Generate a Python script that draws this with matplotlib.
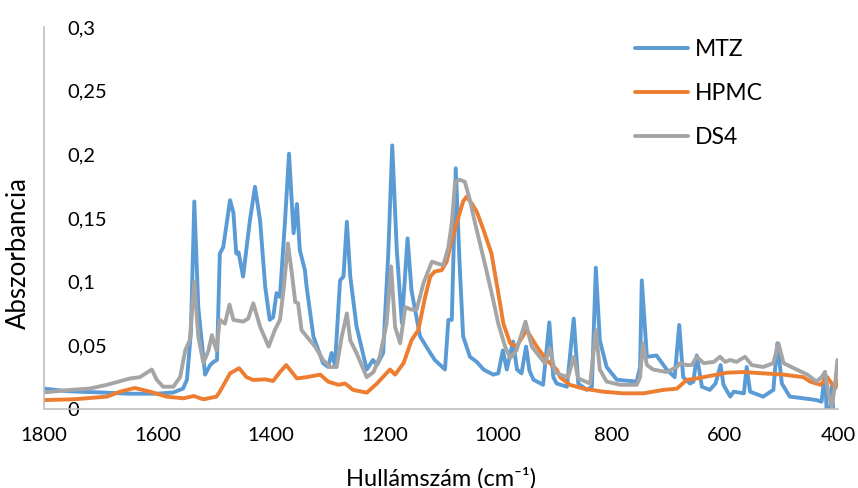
"""FTIR spectra of MTZ, HPMC and DS4."""
import matplotlib
matplotlib.use('Agg')
import matplotlib.pyplot as plt

plt.rcParams['font.family'] = ['Lato', 'DejaVu Sans']

# wavenumber (cm-1), absorbance
mtz_w = [1800, 1760, 1700, 1650, 1600, 1572, 1555, 1548, 1541, 1535, 1528, 1516,
         1507, 1501, 1495, 1490, 1484, 1472, 1466, 1461, 1457, 1449, 1437, 1428,
         1419, 1410, 1402, 1396, 1390, 1384, 1375, 1368, 1360, 1354, 1349, 1340,
         1337, 1325, 1308, 1299, 1293, 1287, 1278, 1272, 1266, 1260, 1249, 1231,
         1220, 1213, 1202, 1193, 1186, 1178, 1169, 1159, 1152, 1137, 1119, 1111,
         1093, 1087, 1081, 1074, 1067, 1061, 1049, 1037, 1025, 1008, 999, 991,
         984, 973, 966, 958, 950, 944, 937, 920, 909, 902, 896, 878, 866, 858,
         843, 834, 827, 820, 808, 790, 755, 749, 746, 737, 720, 702, 688, 680,
         673, 661, 655, 649, 640, 626, 616, 607, 602, 590, 584, 566, 561, 555,
         532, 514, 507, 499, 485, 461, 438, 429, 423, 420, 414, 411, 408]
mtz_a = [0.016, 0.014, 0.013, 0.012, 0.012, 0.013, 0.016, 0.023, 0.06, 0.163, 0.08, 0.027,
         0.0345, 0.037, 0.0385, 0.122, 0.127, 0.164, 0.154, 0.122, 0.123, 0.104, 0.148, 0.1745,
         0.148, 0.096, 0.07, 0.072, 0.091, 0.088, 0.148, 0.2005, 0.138, 0.161, 0.125, 0.109,
         0.096, 0.057, 0.036, 0.033, 0.044, 0.0345, 0.101, 0.104, 0.147, 0.104, 0.065, 0.031,
         0.0385, 0.0345, 0.044, 0.122, 0.207, 0.125, 0.0675, 0.134, 0.093, 0.057, 0.044, 0.0385,
         0.031, 0.07, 0.07, 0.189, 0.112, 0.057, 0.041, 0.037, 0.031, 0.027, 0.028, 0.046,
         0.031, 0.053, 0.031, 0.028, 0.049, 0.03, 0.023, 0.019, 0.068, 0.025, 0.02, 0.0175, 0.071, 0.02,
         0.015, 0.0175, 0.111, 0.054, 0.033, 0.023, 0.0215, 0.033, 0.101, 0.041, 0.042, 0.031, 0.025, 0.066,
         0.025, 0.02, 0.0215, 0.042, 0.0175, 0.015, 0.02, 0.0345, 0.019, 0.0097, 0.0136, 0.0123, 0.033, 0.0136,
         0.0097, 0.015, 0.0516, 0.02, 0.0097, 0.0084, 0.007, 0.0057, 0.029, -0.002, -0.002, 0.0175, -0.003]

hpmc_w = [1800, 1748, 1689, 1666, 1640, 1613, 1584, 1554, 1536, 1519, 1496, 1490,
          1472, 1456, 1443, 1431, 1410, 1396, 1384, 1373, 1354, 1337, 1313, 1299,
          1281, 1269, 1255, 1231, 1213, 1190, 1181, 1166, 1152, 1140, 1128, 1119,
          1111, 1099, 1090, 1081, 1069, 1061, 1055, 1046, 1037, 1025, 1011, 999,
          990, 978, 967, 949, 931, 914, 896, 890, 873, 849, 814, 779, 743, 708,
          684, 667, 649, 626, 596, 567, 532, 496, 461, 449, 431, 419, 405, 399]
hpmc_a = [0.007, 0.0076, 0.0097, 0.0136, 0.0165, 0.0136, 0.0097, 0.0084, 0.0102, 0.0076, 0.0097, 0.0136,
          0.028, 0.032, 0.025, 0.0228, 0.0233, 0.022, 0.029, 0.0345, 0.024, 0.025, 0.027, 0.0215,
          0.019, 0.02, 0.015, 0.0128, 0.02, 0.031, 0.027, 0.036, 0.054, 0.062, 0.088, 0.104,
          0.108, 0.109, 0.1157, 0.1327, 0.151, 0.163, 0.1667, 0.1615, 0.155, 0.1405, 0.122, 0.091,
          0.067, 0.0516, 0.049, 0.062, 0.049, 0.0385, 0.031, 0.025, 0.019, 0.016, 0.0136, 0.0123, 0.0123, 0.015,
          0.016, 0.0228, 0.024, 0.026, 0.0285, 0.029, 0.028, 0.027, 0.025, 0.0215, 0.019, 0.025, 0.016, 0.0228]

ds4_w = [1800, 1754, 1720, 1689, 1648, 1631, 1610, 1601, 1590, 1572, 1560, 1551,
         1543, 1535, 1528, 1519, 1510, 1504, 1496, 1490, 1481, 1473, 1466, 1449,
         1440, 1431, 1419, 1404, 1393, 1384, 1377, 1370, 1363, 1357, 1352, 1346,
         1337, 1322, 1308, 1296, 1284, 1275, 1266, 1260, 1249, 1231, 1219, 1208,
         1196, 1188, 1181, 1172, 1163, 1152, 1143, 1131, 1116, 1105, 1096, 1087,
         1081, 1075, 1067, 1058, 1049, 1040, 1034, 1020, 1008, 999, 987, 978,
         967, 951, 940, 926, 917, 908, 899, 890, 876, 866, 858, 837, 827, 820,
         808, 784, 755, 749, 744, 737, 726, 702, 684, 679, 667, 658, 649, 637,
         619, 608, 599, 590, 579, 564, 552, 532, 514, 505, 496, 473, 454, 438,
         429, 423, 417, 411, 405, 401]
ds4_a = [0.013, 0.015, 0.016, 0.019, 0.024, 0.025, 0.031, 0.0228, 0.0175, 0.0175, 0.025, 0.046,
         0.054, 0.1, 0.057, 0.036, 0.046, 0.058, 0.046, 0.07, 0.067, 0.082, 0.07, 0.0686,
         0.071, 0.083, 0.0646, 0.049, 0.062, 0.07, 0.096, 0.13, 0.1065, 0.084, 0.083, 0.062,
         0.057, 0.049, 0.0385, 0.033, 0.033, 0.057, 0.075, 0.054, 0.044, 0.025, 0.029, 0.041,
         0.067, 0.112, 0.0646, 0.0516, 0.08, 0.078, 0.078, 0.0987, 0.1157, 0.114, 0.113, 0.127,
         0.146, 0.1785, 0.18, 0.1785, 0.164, 0.146, 0.135, 0.109, 0.0856, 0.067, 0.049, 0.04,
         0.046, 0.0686, 0.049, 0.041, 0.036, 0.0477, 0.029, 0.027, 0.025, 0.041, 0.024, 0.02, 0.062, 0.031,
         0.0215, 0.019, 0.019, 0.025, 0.0516, 0.0345, 0.031, 0.029, 0.033, 0.036, 0.0345, 0.0345, 0.041, 0.036,
         0.037, 0.041, 0.037, 0.0385, 0.037, 0.041, 0.0345, 0.033, 0.036, 0.0516, 0.036, 0.031, 0.027, 0.0215,
         0.025, 0.029, 0.0123, 0.0018, 0.02, 0.0385]

x_ticks = [1800, 1600, 1400, 1200, 1000, 800, 600, 400]
y_ticks = [0, 0.05, 0.1, 0.15, 0.2, 0.25, 0.3]
y_labels = ['0', '0,05', '0,1', '0,15', '0,2', '0,25', '0,3']

fig = plt.figure(figsize=(8.58, 4.88), dpi=100)
ax = fig.add_axes([0.0513, 0.1619, 0.9254, 0.7828])

lw = 2.8
ax.plot(mtz_w, mtz_a, color='#5B9BD5', lw=lw, label='MTZ', solid_capstyle='round', solid_joinstyle='round')
ax.plot(hpmc_w, hpmc_a, color='#ED7D31', lw=lw, label='HPMC', solid_capstyle='round', solid_joinstyle='round')
ax.plot(ds4_w, ds4_a, color='#A5A5A5', lw=lw, label='DS4', solid_capstyle='round', solid_joinstyle='round')

ax.set_xlim(1800, 400)
ax.set_ylim(0, 0.3)
ax.set_xticks(x_ticks)
ax.set_xticklabels([str(t) for t in x_ticks])
ax.set_yticks(y_ticks)
ax.set_yticklabels(y_labels)

for side in ['top', 'right']:
    ax.spines[side].set_visible(False)
for side in ['left', 'bottom']:
    ax.spines[side].set_color('#BFBFBF')
    ax.spines[side].set_linewidth(1.2)

ax.tick_params(axis='x', length=0, pad=13, labelsize=14.5)
ax.tick_params(axis='y', length=0, pad=-16.5, labelsize=14.5)
for lab in ax.get_yticklabels():
    lab.set_horizontalalignment('left')

ax.set_xlabel('Hullámszám (cm⁻¹)', fontsize=17)
ax.set_ylabel('Abszorbancia', fontsize=18.5)
ax.xaxis.set_label_coords(0.5, -0.152)
ax.yaxis.set_label_coords(-0.016, 0.408)

ax.legend(loc='upper left', bbox_to_anchor=(0.74, 0.92), bbox_transform=fig.transFigure,
          frameon=False, fontsize=16.5, handlelength=2.3, handletextpad=0.3,
          labelspacing=1.0, borderpad=0, borderaxespad=0)

fig.savefig('out.png', dpi=100)
